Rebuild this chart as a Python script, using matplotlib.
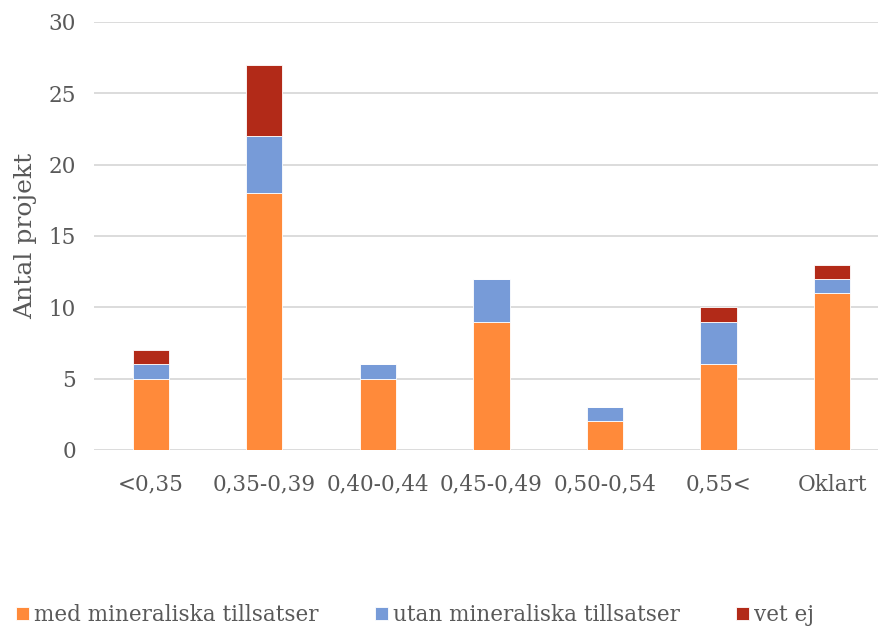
import numpy as np
import matplotlib.pyplot as plt

categories = ['<0,35', '0,35-0,39', '0,40-0,44', '0,45-0,49', '0,50-0,54', '0,55<', 'Oklart']
med_mineral = [5, 18, 5, 9, 2, 6, 11]
utan_mineral = [1, 4, 1, 3, 1, 3, 1]
vet_ej = [1, 5, 0, 0, 0, 1, 1]

series = [
    ('med mineraliska tillsatser', med_mineral, '#FF8A3A'),
    ('utan mineraliska tillsatser', utan_mineral, '#779BD8'),
    ('vet ej', vet_ej, '#B22A18'),
]

plt.rcParams['font.family'] = ['DejaVu Serif']
text_color = '#595959'

fig = plt.figure(figsize=(8.8, 6.28), dpi=100)
ax = fig.add_axes([94 / 880, 1 - 450 / 628, (878 - 94) / 880, 428 / 628])

x = np.arange(len(categories))
bottom = np.zeros(len(categories))
handles = []
for name, vals, color in series:
    vals = np.array(vals, dtype=float)
    b = ax.bar(x, vals, width=0.32, bottom=bottom, color=color,
               edgecolor='white', linewidth=0.6, label=name, zorder=3)
    handles.append(b)
    bottom += vals

ax.set_ylim(0, 30)
ax.set_xlim(-0.5, 6.405)
ax.set_yticks(range(0, 31, 5))
ax.yaxis.grid(True, color='#D9D9D9', linewidth=1.3, zorder=0)
ax.set_axisbelow(True)
for s in ax.spines.values():
    s.set_visible(False)
ax.tick_params(axis='both', length=0, labelsize=15.5, colors=text_color)
ax.tick_params(axis='y', pad=13)
ax.tick_params(axis='x', pad=17)
ax.set_xticks(x)
ax.set_xticklabels(categories)
ax.set_ylabel('Antal projekt', fontsize=18, color=text_color, labelpad=8)

fig.legend(handles=handles, loc='center left', bbox_to_anchor=(-0.004, 1 - 615 / 628),
           ncol=3, frameon=False, fontsize=15.5, labelcolor=text_color,
           handlelength=0.6, handleheight=0.6, handletextpad=0.25, columnspacing=2.6)

fig.savefig('out.png', dpi=100)
